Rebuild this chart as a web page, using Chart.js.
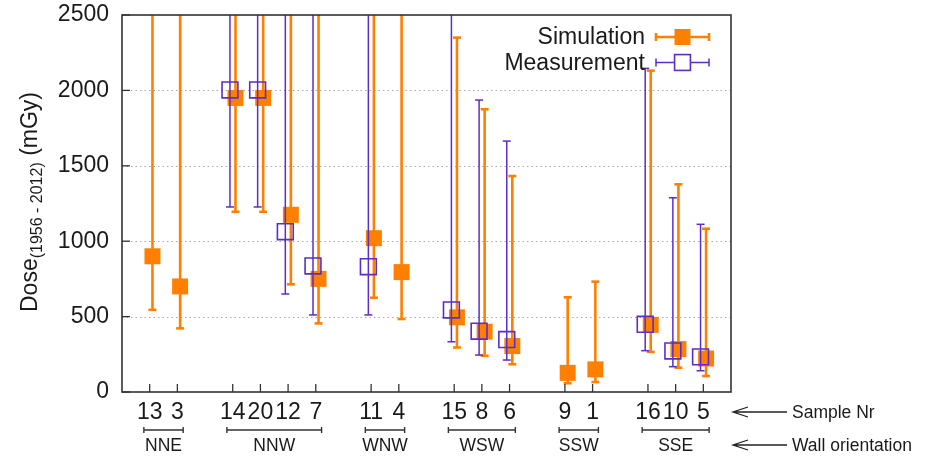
<!DOCTYPE html>
<html><head><meta charset="utf-8">
<script src="https://cdn.jsdelivr.net/npm/chart.js@4.4.1/dist/chart.umd.min.js"></script>
<style>html,body{margin:0;padding:0;background:#fff}#wrap{width:933px;height:458px;position:relative}</style>
</head><body><div id="wrap"><canvas id="c" width="933" height="458" style="width:933px;height:458px"></canvas></div>
<script>
// ---- data ----
const samples    = ['13','3','14','20','12','7','11','4','15','8','6','9','1','16','10','5'];
const groupNames = ['NNE','NNW','WNW','WSW','SSW','SSE'];
const groupSizes = [2,4,2,3,2,3];
const simDose  = [900,700,1950,1950,1175,750,1020,795,495,400,305,127,150,445,285,222];
const simLow   = [545,422,1195,1195,714,455,625,484,295,240,184,58,66,266,161,106];
const simHigh  = [3000,3000,3000,3000,3000,3000,3000,3000,2350,1875,1432,628,732,2131,1377,1083]; // 3000 = beyond axis top
const measDose = [null,null,2003,2003,1063,836,831,null,544,403,348,null,null,449,272,233];
const measLow  = [null,null,1227,1227,650,511,511,null,333,245,212,null,null,274,168,141];
const measHigh = [null,null,3000,3000,3000,3000,3000,null,3000,1936,1664,null,null,2146,1288,1112];
const yTicks = [0,500,1000,1500,2000,2500];
const seriesNames = ['Simulation','Measurement'];
const rowLabels = ['Sample Nr','Wall orientation'];
const yTitleParts = ['Dose','(1956 - 2012)',' (mGy)'];

// ---- slot layout: blank slot between groups ----
const slotLabels = [''];
const sampleSlot = [];
const groupSlots = [];
{ let k = 0;
  groupSizes.forEach(n => {
    const first = slotLabels.length;
    for (let i = 0; i < n; i++) { sampleSlot.push(slotLabels.length); slotLabels.push(samples[k++]); }
    groupSlots.push([first, slotLabels.length - 1]);
    slotLabels.push('');
  });
}

const ORANGE = '#ff8000', PURPLE = '#5a2ec8', INK = '#1a1a1a';
const FONT = '"Liberation Sans", Arial, sans-serif';

function mk(vals, lo, hi, off) {
  const out = [];
  vals.forEach((v, i) => { if (v !== null) out.push({x: sampleSlot[i] + off, y: v, lo: lo[i], hi: hi[i]}); });
  return out;
}

const errPlugin = {
  id: 'errbars',
  beforeDatasetsDraw(chart) {
    const {ctx, chartArea: a, scales: {y}} = chart;
    ctx.save();
    ctx.strokeStyle = '#a8a8a8'; ctx.lineWidth = 1; ctx.setLineDash([1.5, 3]);
    yTicks.forEach(t => {
      if (t === y.min || t === y.max) return;
      const py = Math.round(y.getPixelForValue(t)) + 0.5;
      ctx.beginPath(); ctx.moveTo(a.left, py); ctx.lineTo(a.right, py); ctx.stroke();
    });
    ctx.restore();
  },
  beforeDatasetDraw(chart, args) {
    const {ctx, chartArea: a, scales: {y}} = chart;
    const ds = chart.data.datasets[args.index];
    ctx.save();
    ctx.beginPath(); ctx.rect(a.left, a.top, a.right - a.left, a.bottom - a.top); ctx.clip();
    ctx.strokeStyle = ds.errColor; ctx.lineWidth = ds.errWidth;
    args.meta.data.forEach((el, i) => {
      const r = ds.data[i];
      const x = el.x, y0 = y.getPixelForValue(r.lo), y1 = y.getPixelForValue(r.hi);
      ctx.beginPath(); ctx.moveTo(x, y0); ctx.lineTo(x, y1); ctx.stroke();
      [y0, y1].forEach(yy => {
        if (yy >= a.top && yy <= a.bottom) {
          ctx.beginPath(); ctx.moveTo(x - ds.capHalf, yy); ctx.lineTo(x + ds.capHalf, yy); ctx.stroke();
        }
      });
    });
    ctx.restore();
  },
  afterDraw(chart) {
    const {ctx, chartArea: a, scales: {x, y}} = chart;
    ctx.save();
    // frame
    ctx.strokeStyle = '#333'; ctx.lineWidth = 1.6;
    ctx.strokeRect(a.left, a.top, a.right - a.left, a.bottom - a.top);
    // inward tick marks
    ctx.lineWidth = 1.3;
    yTicks.forEach(t => {
      const py = y.getPixelForValue(t);
      ctx.beginPath(); ctx.moveTo(a.left, py); ctx.lineTo(a.left + 8, py); ctx.stroke();
    });
    sampleSlot.forEach(s => {
      const px = x.getPixelForValue(s);
      ctx.beginPath(); ctx.moveTo(px, a.bottom); ctx.lineTo(px, a.bottom - 8); ctx.stroke();
    });
    // legend
    chart.data.datasets.forEach((ds, i) => {
      const ly = a.top + 22 + i * 25.5;
      ctx.fillStyle = INK; ctx.font = '23px ' + FONT; ctx.textAlign = 'right'; ctx.textBaseline = 'middle';
      ctx.fillText(ds.label, a.right - 86, ly + 1);
      const x0 = a.right - 75, x1 = a.right - 22, xm = (x0 + x1) / 2;
      ctx.strokeStyle = ds.errColor; ctx.lineWidth = ds.errWidth;
      ctx.beginPath(); ctx.moveTo(x0, ly); ctx.lineTo(x1, ly);
      ctx.moveTo(x0, ly - 4); ctx.lineTo(x0, ly + 4);
      ctx.moveTo(x1, ly - 4); ctx.lineTo(x1, ly + 4); ctx.stroke();
      const h = ds.pointRadius * Math.SQRT1_2;
      if (ds.pointBorderWidth > 0) {
        ctx.fillStyle = '#fff'; ctx.fillRect(xm - h, ly - h, 2 * h, 2 * h);
        ctx.strokeStyle = ds.pointBorderColor; ctx.lineWidth = ds.pointBorderWidth;
        ctx.strokeRect(xm - h, ly - h, 2 * h, 2 * h);
      } else {
        ctx.fillStyle = ds.pointBackgroundColor; ctx.fillRect(xm - h, ly - h, 2 * h, 2 * h);
      }
    });
    // y title with subscript
    ctx.save();
    ctx.translate(28.5, 202); ctx.rotate(-Math.PI / 2);
    ctx.fillStyle = INK; ctx.textAlign = 'left'; ctx.textBaseline = 'alphabetic';
    const fonts = ['23px ' + FONT, '16px ' + FONT, '23px ' + FONT];
    const base = [8, 13, 8];
    let widths = yTitleParts.map((t, i) => { ctx.font = fonts[i]; return ctx.measureText(t).width; });
    let cx = -widths.reduce((p, c) => p + c, 0) / 2;
    yTitleParts.forEach((t, i) => { ctx.font = fonts[i]; ctx.fillText(t, cx, base[i]); cx += widths[i]; });
    ctx.restore();
    // group brackets and names
    ctx.strokeStyle = '#333'; ctx.lineWidth = 1.4; ctx.fillStyle = INK;
    ctx.font = '17.5px ' + FONT; ctx.textAlign = 'center'; ctx.textBaseline = 'middle';
    const by = 430;
    groupSlots.forEach(([s0, s1], g) => {
      const x0 = x.getPixelForValue(s0 - 0.21), x1 = x.getPixelForValue(s1 + 0.21);
      ctx.beginPath(); ctx.moveTo(x0, by); ctx.lineTo(x1, by);
      ctx.moveTo(x0, by - 3); ctx.lineTo(x0, by + 3);
      ctx.moveTo(x1, by - 3); ctx.lineTo(x1, by + 3); ctx.stroke();
      ctx.fillText(groupNames[g], (x0 + x1) / 2, 446);
    });
    // row annotations with arrows
    ctx.textAlign = 'left'; ctx.lineWidth = 1.3; ctx.strokeStyle = '#222';
    [412, 445].forEach((ry, i) => {
      const tip = a.right + 2, tail = a.right + 56;
      ctx.beginPath(); ctx.moveTo(tip, ry); ctx.lineTo(tail, ry);
      ctx.moveTo(tip + 15, ry - 5); ctx.lineTo(tip, ry); ctx.lineTo(tip + 15, ry + 5); ctx.stroke();
      ctx.fillText(rowLabels[i], a.right + 61, ry + 1);
    });
    ctx.restore();
  }
};

new Chart(document.getElementById('c'), {
  type: 'scatter',
  data: {
    datasets: [
      { label: seriesNames[0], data: mk(simDose, simLow, simHigh, 0.1), order: 2,
        pointStyle: 'rect', pointRadius: 11.3, pointHoverRadius: 11.3,
        pointBackgroundColor: ORANGE, pointBorderColor: ORANGE, pointBorderWidth: 0,
        errColor: ORANGE, errWidth: 2.6, capHalf: 4 },
      { label: seriesNames[1], data: mk(measDose, measLow, measHigh, -0.1), order: 1,
        pointStyle: 'rect', pointRadius: 11.2, pointHoverRadius: 11.2,
        pointBackgroundColor: 'rgba(0,0,0,0)', pointBorderColor: PURPLE, pointBorderWidth: 1.6,
        errColor: PURPLE, errWidth: 1.5, capHalf: 4 }
    ]
  },
  options: {
    responsive: false, maintainAspectRatio: false, animation: false, devicePixelRatio: 1,
    layout: { padding: { left: 0, right: 202, top: 15, bottom: 0 } },
    plugins: { legend: { display: false }, tooltip: { enabled: false } },
    scales: {
      x: {
        type: 'linear', min: 0, max: slotLabels.length - 1,
        grid: { display: false, drawTicks: false }, border: { display: false },
        ticks: { stepSize: 1, autoSkip: false, maxRotation: 0, minRotation: 0, padding: 7,
                 color: INK, font: { family: FONT, size: 23 },
                 callback: v => slotLabels[v] ?? '' },
        afterFit: s => { s.height = 66; s.paddingLeft = 0; s.paddingRight = 0; }
      },
      y: {
        min: 0, max: 2500,
        grid: { display: false, drawTicks: false }, border: { display: false },
        afterBuildTicks: s => { s.ticks = yTicks.map(v => ({ value: v })); },
        ticks: { padding: 13, color: INK, font: { family: FONT, size: 23 }, callback: v => String(v) },
        afterFit: s => { s.width = 122; s.paddingTop = 0; s.paddingBottom = 0; }
      }
    }
  },
  plugins: [errPlugin]
});
</script>
</body></html>
